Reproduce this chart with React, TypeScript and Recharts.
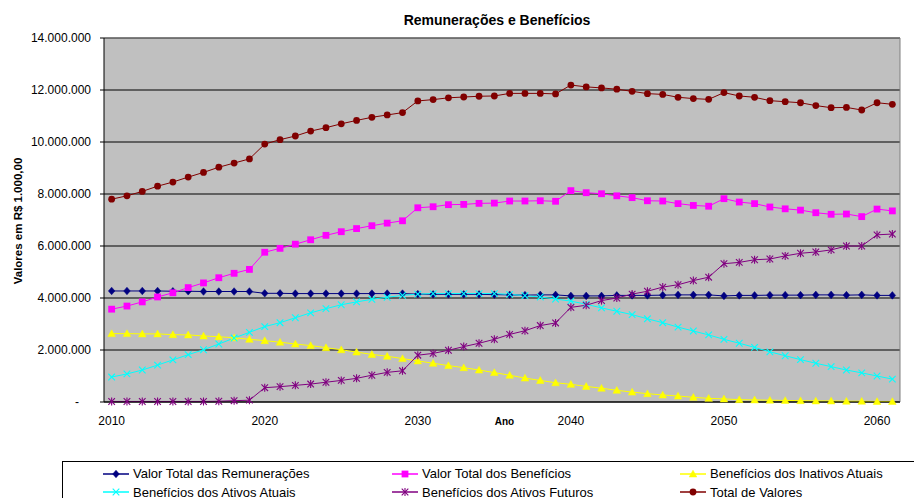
import React from 'react';
import { LineChart, Line, XAxis, YAxis, CartesianGrid, ReferenceLine } from 'recharts';

const years = [
  2010, 2011, 2012, 2013, 2014, 2015, 2016, 2017, 2018, 2019,
  2020, 2021, 2022, 2023, 2024, 2025, 2026, 2027, 2028, 2029,
  2030, 2031, 2032, 2033, 2034, 2035, 2036, 2037, 2038, 2039,
  2040, 2041, 2042, 2043, 2044, 2045, 2046, 2047, 2048, 2049,
  2050, 2051, 2052, 2053, 2054, 2055, 2056, 2057, 2058, 2059,
  2060, 2061,
];

const remuneracoes = [
  4270000, 4270000, 4270000, 4270000, 4260000, 4260000, 4250000, 4250000, 4250000, 4250000,
  4180000, 4180000, 4170000, 4170000, 4170000, 4170000, 4170000, 4170000, 4170000, 4170000,
  4150000, 4140000, 4140000, 4140000, 4140000, 4130000, 4120000, 4110000, 4120000, 4120000,
  4080000, 4080000, 4080000, 4100000, 4100000, 4100000, 4110000, 4120000, 4120000, 4120000,
  4080000, 4100000, 4100000, 4110000, 4110000, 4110000, 4120000, 4120000, 4110000, 4120000,
  4100000, 4100000,
];

const totalBeneficios = [
  3570000, 3690000, 3850000, 4040000, 4200000, 4400000, 4580000, 4780000, 4950000, 5100000,
  5760000, 5910000, 6070000, 6240000, 6410000, 6550000, 6670000, 6780000, 6880000, 6970000,
  7470000, 7510000, 7590000, 7600000, 7640000, 7650000, 7730000, 7730000, 7740000, 7720000,
  8130000, 8050000, 8010000, 7930000, 7860000, 7740000, 7730000, 7630000, 7560000, 7530000,
  7820000, 7690000, 7630000, 7500000, 7430000, 7380000, 7280000, 7220000, 7230000, 7130000,
  7420000, 7350000,
];

const inativosAtuais = [
  2630000, 2630000, 2620000, 2620000, 2590000, 2580000, 2540000, 2510000, 2470000, 2410000,
  2360000, 2300000, 2230000, 2170000, 2090000, 2010000, 1920000, 1830000, 1760000, 1670000,
  1580000, 1490000, 1400000, 1320000, 1230000, 1130000, 1030000, 920000, 830000, 740000,
  680000, 600000, 530000, 450000, 380000, 320000, 270000, 230000, 180000, 140000,
  120000, 90000, 80000, 70000, 60000, 50000, 40000, 40000, 30000, 30000,
  20000, 20000,
];

const ativosAtuais = [
  960000, 1080000, 1230000, 1420000, 1620000, 1820000, 2010000, 2230000, 2460000, 2680000,
  2900000, 3050000, 3240000, 3430000, 3590000, 3740000, 3850000, 3950000, 4030000, 4100000,
  4150000, 4170000, 4170000, 4170000, 4170000, 4170000, 4140000, 4090000, 4040000, 3960000,
  3880000, 3760000, 3620000, 3490000, 3360000, 3200000, 3050000, 2880000, 2730000, 2580000,
  2410000, 2260000, 2100000, 1930000, 1780000, 1630000, 1490000, 1360000, 1230000, 1120000,
  1000000, 880000,
];

const ativosFuturos = [
  20000, 20000, 20000, 20000, 20000, 20000, 20000, 30000, 50000, 70000,
  550000, 590000, 640000, 690000, 760000, 830000, 910000, 1030000, 1140000, 1200000,
  1800000, 1870000, 1990000, 2130000, 2260000, 2410000, 2600000, 2740000, 2940000, 3040000,
  3640000, 3720000, 3900000, 4000000, 4150000, 4260000, 4420000, 4510000, 4670000, 4800000,
  5320000, 5370000, 5470000, 5500000, 5620000, 5720000, 5770000, 5850000, 6000000, 6000000,
  6430000, 6460000,
];

const totalValores = [
  7800000, 7930000, 8100000, 8300000, 8460000, 8650000, 8830000, 9030000, 9190000, 9350000,
  9920000, 10090000, 10230000, 10420000, 10550000, 10700000, 10830000, 10950000, 11040000, 11130000,
  11580000, 11630000, 11700000, 11730000, 11760000, 11770000, 11870000, 11870000, 11870000, 11850000,
  12190000, 12120000, 12080000, 12030000, 11950000, 11860000, 11830000, 11720000, 11670000, 11640000,
  11900000, 11770000, 11720000, 11590000, 11550000, 11510000, 11400000, 11320000, 11330000, 11230000,
  11510000, 11450000,
];

const yTicks = [0, 2000000, 4000000, 6000000, 8000000, 10000000, 12000000, 14000000];
const xLabelTicks = [2010, 2020, 2030, 2040, 2050, 2060];
const xBoundaryTicks = [2009.5, ...years.map((y) => y + 0.5)];

const title = 'Remunerações e Benefícios';
const yAxisTitle = 'Valores em R$ 1.000,00';
const xAxisTitle = 'Ano';

type Shape = 'diamond' | 'square' | 'triangle' | 'x' | 'star' | 'circle';

const series: { key: string; name: string; color: string; shape: Shape; values: number[] }[] = [
  { key: 'remuneracoes', name: 'Valor Total das Remunerações', color: '#000080', shape: 'diamond', values: remuneracoes },
  { key: 'totalBeneficios', name: 'Valor Total dos Benefícios', color: '#FF00FF', shape: 'square', values: totalBeneficios },
  { key: 'inativosAtuais', name: 'Benefícios dos Inativos Atuais', color: '#FFFF00', shape: 'triangle', values: inativosAtuais },
  { key: 'ativosAtuais', name: 'Benefícios dos Ativos Atuais', color: '#00FFFF', shape: 'x', values: ativosAtuais },
  { key: 'ativosFuturos', name: 'Benefícios dos Ativos Futuros', color: '#800080', shape: 'star', values: ativosFuturos },
  { key: 'totalValores', name: 'Total de Valores', color: '#800000', shape: 'circle', values: totalValores },
];

const data = years.map((year, i) => {
  const row: Record<string, number> = { year };
  series.forEach((s) => {
    row[s.key] = s.values[i];
  });
  return row;
});

const FONT = 'Arial, "Liberation Sans", sans-serif';

function Marker({ shape, color, cx, cy }: { shape: Shape; color: string; cx: number; cy: number }) {
  switch (shape) {
    case 'diamond':
      return <polygon points={`${cx},${cy - 3.8} ${cx + 3.3},${cy} ${cx},${cy + 3.8} ${cx - 3.3},${cy}`} fill={color} stroke={color} strokeWidth={0.5} />;
    case 'square':
      return <rect x={cx - 3.4} y={cy - 3.4} width={6.8} height={6.8} fill={color} />;
    case 'triangle':
      return <polygon points={`${cx},${cy - 3.8} ${cx + 3.8},${cy + 3} ${cx - 3.8},${cy + 3}`} fill={color} stroke={color} strokeWidth={0.5} />;
    case 'x':
      return (
        <g stroke={color} strokeWidth={1.1}>
          <line x1={cx - 3.3} y1={cy - 3.3} x2={cx + 3.3} y2={cy + 3.3} />
          <line x1={cx - 3.3} y1={cy + 3.3} x2={cx + 3.3} y2={cy - 3.3} />
        </g>
      );
    case 'star':
      return (
        <g stroke={color} strokeWidth={1.1}>
          <line x1={cx - 3.3} y1={cy - 3.3} x2={cx + 3.3} y2={cy + 3.3} />
          <line x1={cx - 3.3} y1={cy + 3.3} x2={cx + 3.3} y2={cy - 3.3} />
          <line x1={cx} y1={cy - 4} x2={cx} y2={cy + 4} />
        </g>
      );
    case 'circle':
    default:
      return <circle cx={cx} cy={cy} r={3.4} fill={color} />;
  }
}

const makeDot = (shape: Shape, color: string) => (props: any) => {
  const { cx, cy, index } = props;
  if (cx == null || cy == null) return <g key={`d-${index}`} />;
  return (
    <g key={`d-${index}`}>
      <Marker shape={shape} color={color} cx={cx} cy={cy} />
    </g>
  );
};

const formatY = (v: number) => (v === 0 ? '-' : String(v).replace(/\B(?=(\d{3})+(?!\d))/g, '.'));

const YTick = (props: any) => {
  const { x, y, payload } = props;
  const v = payload.value as number;
  return (
    <text x={v === 0 ? x - 12 : x} y={y} dy="0.355em" textAnchor="end" fontSize={12} fontFamily={FONT} fill="#000">
      {formatY(v)}
    </text>
  );
};

const legendColumns = [103, 392, 680];
const legendRows = [466.2, 484.5];

export default function App() {
  return (
    <div style={{ position: 'absolute', left: 0, top: 0, width: 914, height: 498, background: '#fff', overflow: 'hidden' }}>
      <LineChart
        width={914}
        height={498}
        data={data}
        margin={{ top: 38, right: 14, bottom: 66, left: 0 }}
      >
        <CartesianGrid xAxisId="a" vertical={false} stroke="#000" strokeOpacity={1} fill="#C0C0C0" fillOpacity={1} />
        <XAxis
          xAxisId="a"
          dataKey="year"
          type="number"
          domain={[2009.5, 2061.5]}
          ticks={xBoundaryTicks}
          interval={0}
          tick={false}
          tickSize={4}
          height={5}
          axisLine={{ stroke: '#000' }}
          tickLine={{ stroke: '#000' }}
        />
        <XAxis
          xAxisId="b"
          dataKey="year"
          type="number"
          domain={[2009.5, 2061.5]}
          ticks={xLabelTicks}
          interval={0}
          height={25}
          tickSize={0}
          tickMargin={9}
          axisLine={false}
          tickLine={false}
          tick={{ fontSize: 12, fill: '#000', fontFamily: FONT }}
        />
        <YAxis
          type="number"
          domain={[0, 14000000]}
          ticks={yTicks}
          interval={0}
          width={104}
          tickSize={4}
          tickMargin={9}
          axisLine={{ stroke: '#000' }}
          tickLine={{ stroke: '#000' }}
          tick={<YTick />}
        />
        <ReferenceLine xAxisId="a" y={14000000} stroke="#808080" strokeWidth={1} />
        <ReferenceLine xAxisId="a" x={2061.5} stroke="#808080" strokeWidth={1} />
        {series.map((s) => (
          <Line
            key={s.key}
            xAxisId="a"
            type="linear"
            dataKey={s.key}
            name={s.name}
            stroke={s.color}
            strokeWidth={1}
            dot={makeDot(s.shape, s.color)}
            activeDot={false}
            isAnimationActive={false}
          />
        ))}
      </LineChart>

      <div
        style={{
          position: 'absolute', left: 0, width: 994, top: 11.7, textAlign: 'center',
          fontFamily: FONT, fontWeight: 'bold', fontSize: 14, lineHeight: '16px', color: '#000', whiteSpace: 'nowrap',
        }}
      >
        {title}
      </div>

      <div
        style={{
          position: 'absolute', left: 18, top: 221, transform: 'translate(-50%, -50%) rotate(-90deg)',
          fontFamily: FONT, fontWeight: 'bold', fontSize: 11.5, lineHeight: '14px', color: '#000', whiteSpace: 'nowrap',
        }}
      >
        {yAxisTitle}
      </div>

      <div
        style={{
          position: 'absolute', left: 504.5, top: 415.7, transform: 'translateX(-50%)',
          fontFamily: FONT, fontWeight: 'bold', fontSize: 10, lineHeight: '12px', color: '#000', whiteSpace: 'nowrap',
        }}
      >
        {xAxisTitle}
      </div>

      <div
        style={{
          position: 'absolute', left: 62, top: 461, width: 900, height: 60,
          border: '1px solid #000', boxSizing: 'border-box', background: '#fff',
        }}
      />
      {series.map((s, i) => {
        const col = i % 3;
        const row = Math.floor(i / 3);
        return (
          <div
            key={s.key}
            style={{
              position: 'absolute', left: legendColumns[col], top: legendRows[row], height: 15,
              display: 'flex', alignItems: 'center', whiteSpace: 'nowrap',
              fontFamily: FONT, fontSize: 13, lineHeight: '15px', color: '#000',
            }}
          >
            <svg width={26} height={10} style={{ marginRight: 4, overflow: 'visible' }}>
              <line x1={0} y1={5} x2={26} y2={5} stroke={s.color} strokeWidth={1.5} />
              <Marker shape={s.shape} color={s.color} cx={13} cy={5} />
            </svg>
            <span>{s.name}</span>
          </div>
        );
      })}
    </div>
  );
}
